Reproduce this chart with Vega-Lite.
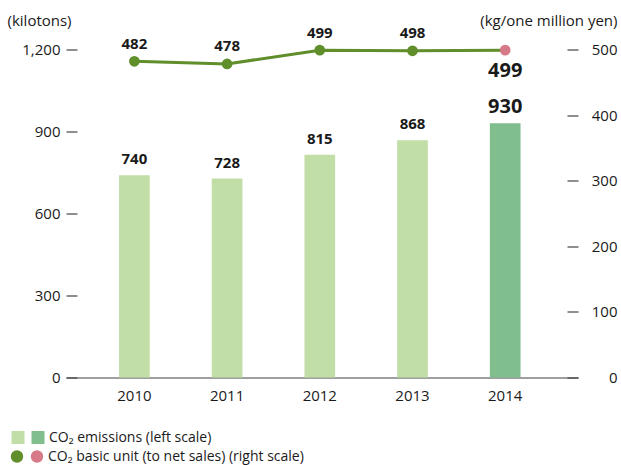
{
  "$schema": "https://vega.github.io/schema/vega-lite/v6.json",
  "width": 512,
  "height": 328,
  "autosize": {"type": "none"},
  "padding": {"left": 66, "top": 49.5, "right": 43, "bottom": 87.5},
  "background": "white",
  "config": {
    "font": "Open Sans",
    "view": {"stroke": null},
    "legend": {"padding": 0}
  },
  "data": {
    "values": [
      {"year": "2010", "emissions": 740, "unit": 482, "highlight": "past"},
      {"year": "2011", "emissions": 728, "unit": 478, "highlight": "past"},
      {"year": "2012", "emissions": 815, "unit": 499, "highlight": "past"},
      {"year": "2013", "emissions": 868, "unit": 498, "highlight": "past"},
      {"year": "2014", "emissions": 930, "unit": 499, "highlight": "latest"}
    ]
  },
  "encoding": {
    "x": {
      "field": "year",
      "type": "nominal",
      "sort": null,
      "scale": {"paddingInner": 0.669, "paddingOuter": 0.596, "align": 0.48},
      "axis": {
        "title": null,
        "labelAngle": 0,
        "ticks": false,
        "labelPadding": 10.5,
        "labelFontSize": 15,
        "labelColor": "#1a1a1a",
        "domainColor": "#7f7f7f",
        "domainWidth": 1.5,
        "grid": false
      }
    }
  },
  "layer": [
    {
      "encoding": {
        "y": {
          "field": "emissions",
          "type": "quantitative",
          "scale": {"domain": [0, 1200], "nice": false},
          "axis": {
            "orient": "left",
            "values": [0, 300, 600, 900, 1200],
            "format": ",d",
            "title": "(kilotons)",
            "titleAngle": 0,
            "titleAlign": "left",
            "titleBaseline": "middle",
            "titleX": -59,
            "titleY": -29.5,
            "titleFontSize": 15,
            "titleFontWeight": "normal",
            "titleColor": "#1a1a1a",
            "tickSize": -11,
            "tickColor": "#444444",
            "tickWidth": 1.2,
            "labelPadding": 17,
            "labelFontSize": 15,
            "labelColor": "#1a1a1a",
            "domain": false,
            "grid": false
          }
        }
      },
      "layer": [
        {
          "mark": {"type": "bar"},
          "encoding": {
            "color": {
              "field": "highlight",
              "type": "nominal",
              "scale": {"domain": ["past", "latest"], "range": ["#c1dea6", "#80be8e"]},
              "legend": {
                "orient": "none",
                "legendX": -55,
                "legendY": 381,
                "direction": "horizontal",
                "columns": 2,
                "title": null,
                "symbolType": "square",
                "symbolSize": 169,
                "symbolStrokeWidth": 0,
                "symbolOpacity": 1,
                "labelExpr": "datum.value == 'latest' ? 'CO₂ emissions (left scale)' : ''",
                "labelFontSize": 14,
                "labelLimit": 500,
                "labelColor": "#1a1a1a",
                "labelOffset": 4,
                "columnPadding": 2
              }
            }
          }
        },
        {
          "transform": [{"filter": "datum.highlight == 'past'"}],
          "mark": {"type": "text", "fontSize": 15, "fontWeight": "bold", "baseline": "alphabetic", "dy": -11, "color": "#1a1a1a"},
          "encoding": {"text": {"field": "emissions", "type": "quantitative"}}
        },
        {
          "transform": [{"filter": "datum.highlight == 'latest'"}],
          "mark": {"type": "text", "fontSize": 20, "fontWeight": "bold", "baseline": "alphabetic", "dy": -10, "color": "#1a1a1a"},
          "encoding": {"text": {"field": "emissions", "type": "quantitative"}}
        }
      ]
    },
    {
      "encoding": {
        "y": {
          "field": "unit",
          "type": "quantitative",
          "scale": {"domain": [0, 500], "nice": false},
          "axis": {
            "orient": "right",
            "values": [0, 100, 200, 300, 400, 500],
            "title": "(kg/one million yen)",
            "titleAngle": 0,
            "titleAlign": "right",
            "titleBaseline": "middle",
            "titleX": 39,
            "titleY": -29.5,
            "titleFontSize": 15,
            "titleFontWeight": "normal",
            "titleColor": "#1a1a1a",
            "tickSize": -11,
            "tickColor": "#444444",
            "tickWidth": 1.2,
            "labelPadding": 50,
            "labelAlign": "right",
            "labelFontSize": 15,
            "labelColor": "#1a1a1a",
            "domain": false,
            "grid": false
          }
        }
      },
      "layer": [
        {
          "mark": {"type": "line", "color": "#5f8e2b", "strokeWidth": 3},
          "encoding": {}
        },
        {
          "mark": {"type": "circle", "size": 115, "opacity": 1},
          "encoding": {
            "color": {
              "field": "highlight",
              "type": "nominal",
              "scale": {"domain": ["past", "latest"], "range": ["#5f8e2b", "#d77a88"]},
              "legend": {
                "orient": "none",
                "legendX": -56,
                "legendY": 400,
                "direction": "horizontal",
                "columns": 2,
                "title": null,
                "symbolType": "circle",
                "symbolSize": 154,
                "symbolStrokeWidth": 0,
                "symbolOpacity": 1,
                "labelExpr": "datum.value == 'latest' ? 'CO₂ basic unit (to net sales) (right scale)' : ''",
                "labelFontSize": 14,
                "labelLimit": 500,
                "labelColor": "#1a1a1a",
                "labelOffset": 4,
                "columnPadding": 2
              }
            }
          }
        },
        {
          "transform": [{"filter": "datum.highlight == 'past'"}],
          "mark": {"type": "text", "fontSize": 15, "fontWeight": "bold", "baseline": "alphabetic", "dy": -12.5, "color": "#1a1a1a"},
          "encoding": {"text": {"field": "unit", "type": "quantitative"}}
        },
        {
          "transform": [{"filter": "datum.highlight == 'latest'"}],
          "mark": {"type": "text", "fontSize": 20, "fontWeight": "bold", "baseline": "alphabetic", "dy": 27, "color": "#1a1a1a"},
          "encoding": {"text": {"field": "unit", "type": "quantitative"}}
        }
      ]
    }
  ],
  "resolve": {"scale": {"y": "independent", "color": "independent"}}
}
